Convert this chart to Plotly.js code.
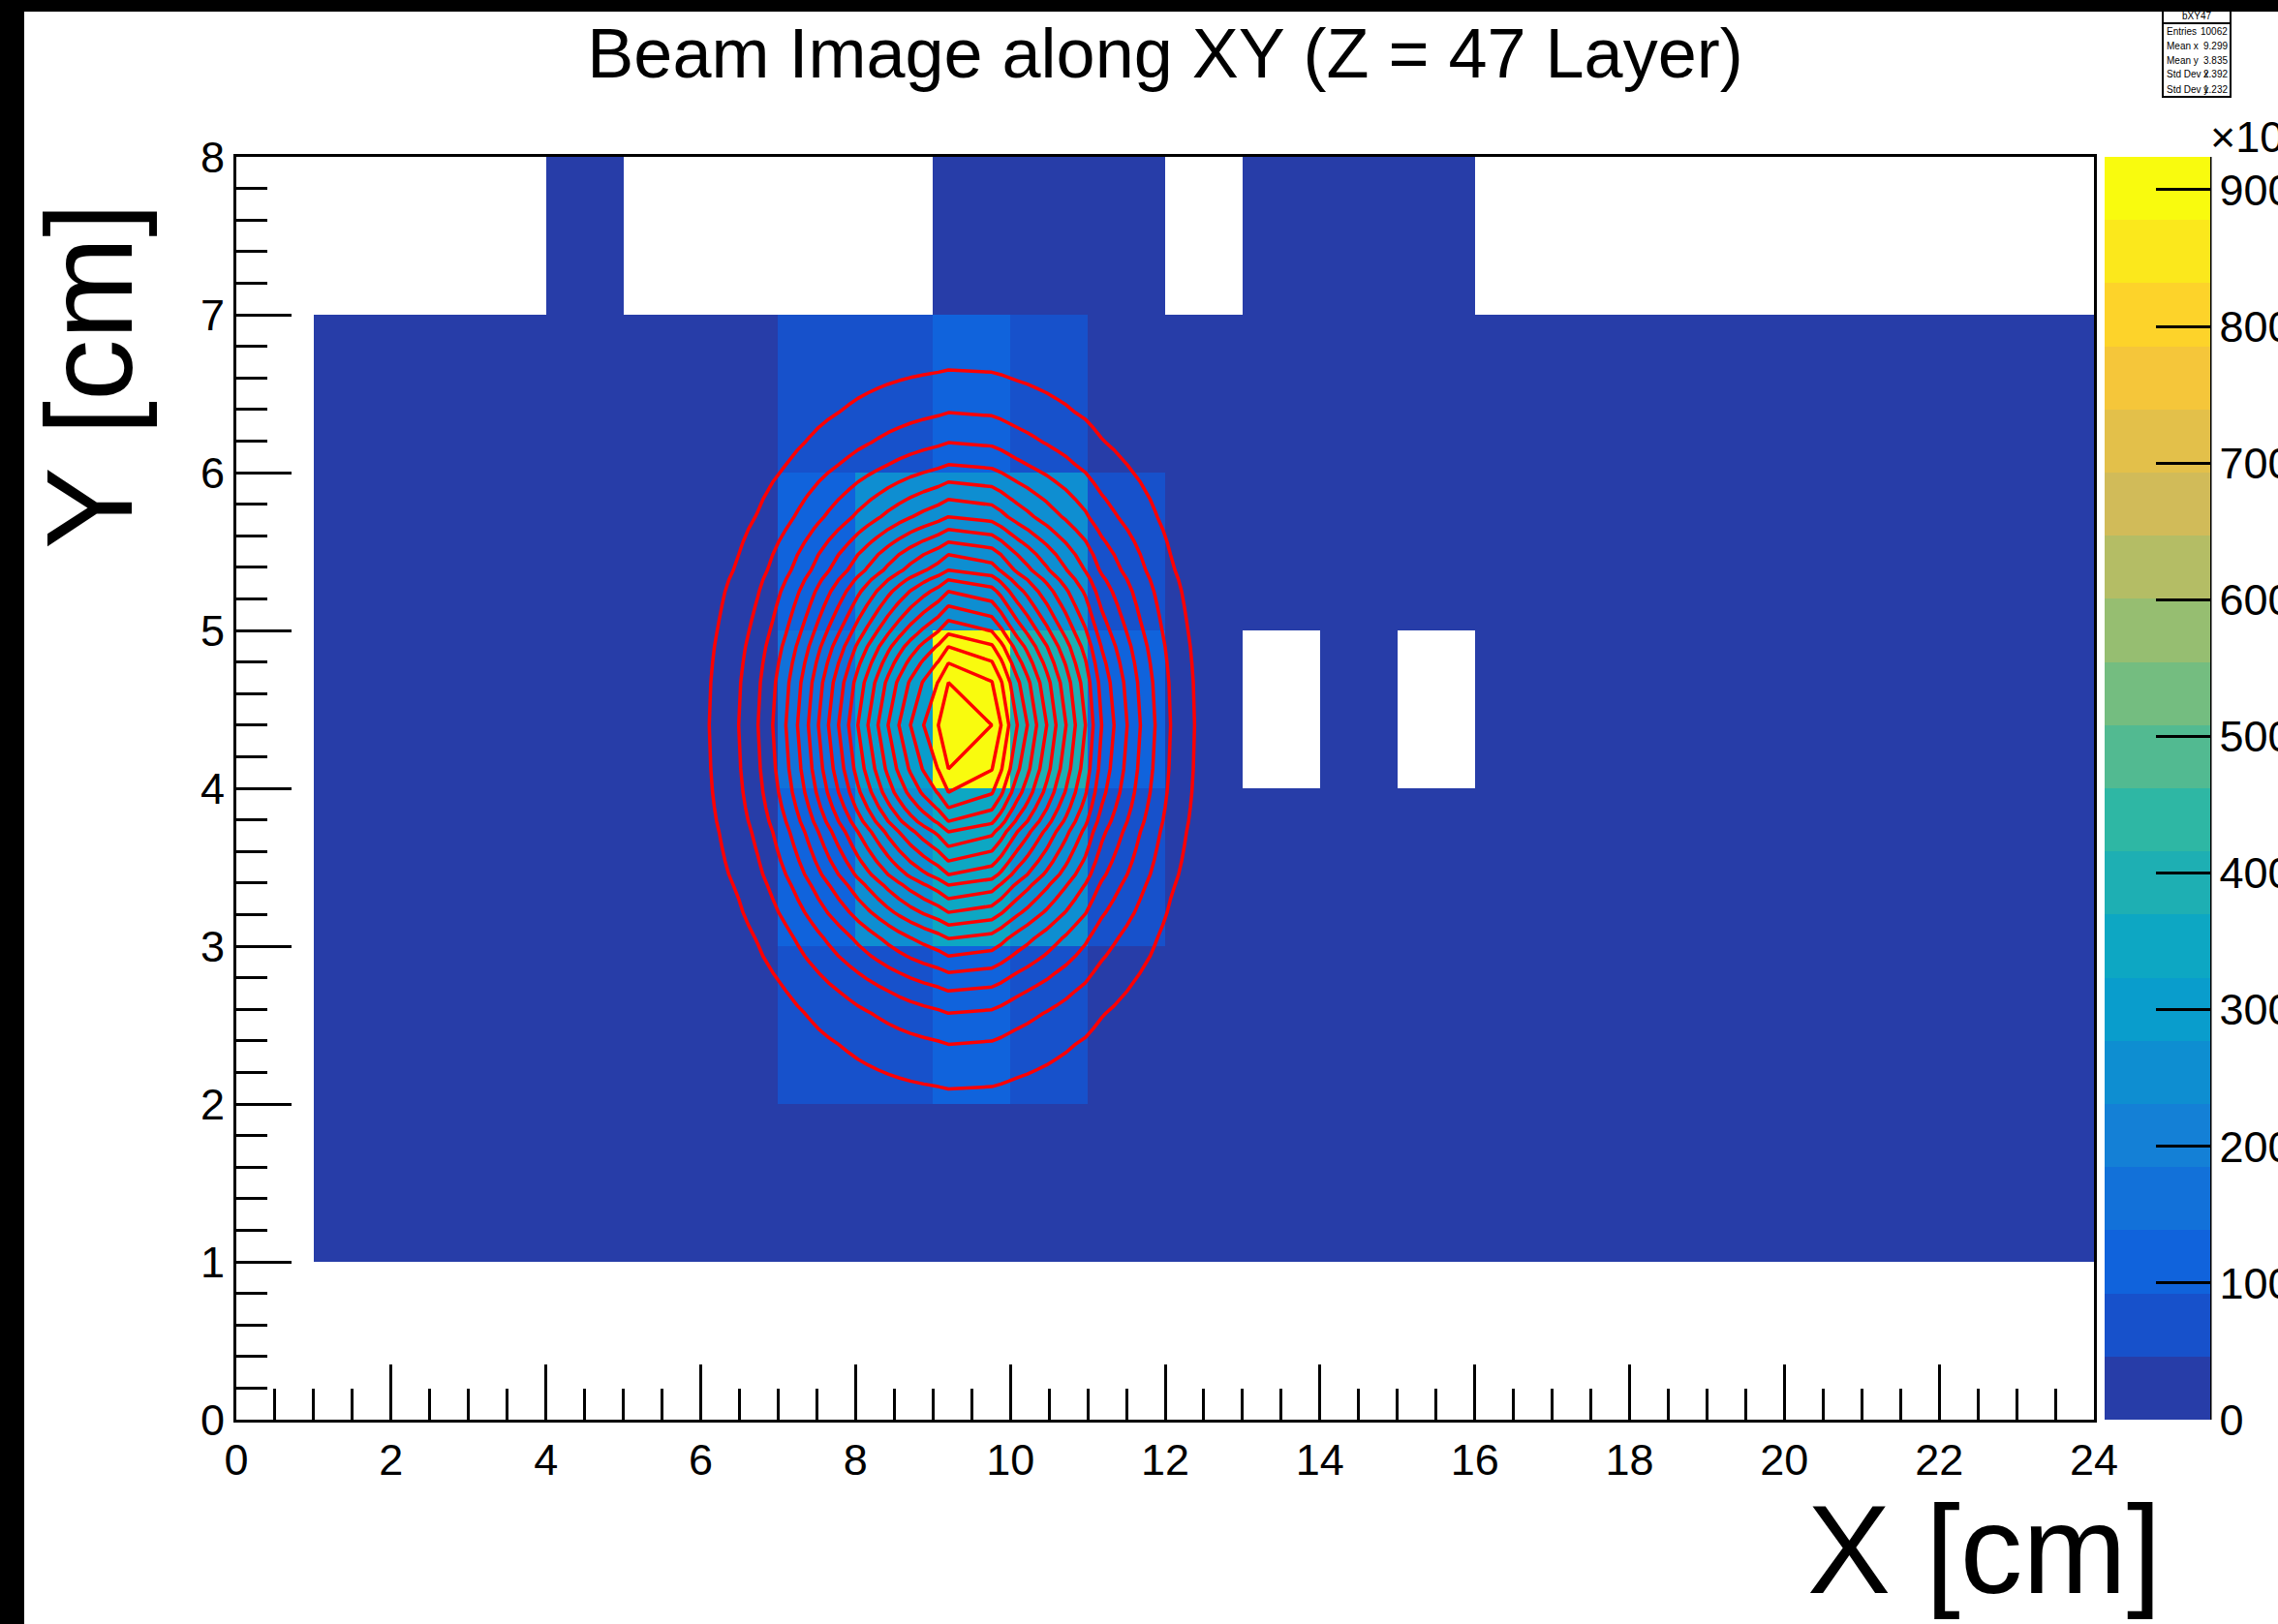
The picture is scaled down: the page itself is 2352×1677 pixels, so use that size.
<!DOCTYPE html>
<html>
<head>
<meta charset="utf-8">
<script src="https://cdn.plot.ly/plotly-3.0.1.min.js"></script>
<style>
  html, body { margin: 0; padding: 0; background: #000; overflow: hidden; width: 2352px; height: 1677px; }
  #plot { position: absolute; left: 25px; top: 12px; width: 2387px; height: 1665px; background: #fff; }
</style>
</head>
<body>
<div id="plot"></div>
<script>
// ---------------- DATA ----------------
const binCentersX = [0.5,1.5,2.5,3.5,4.5,5.5,6.5,7.5,8.5,9.5,10.5,11.5,12.5,13.5,14.5,15.5,16.5,17.5,18.5,19.5,20.5,21.5,22.5,23.5];
const binCentersY = [0.5,1.5,2.5,3.5,4.5,5.5,6.5,7.5];
// bin contents (x10^3), rows = Y bins from 0-1 up to 7-8; 0 = empty bin
const counts = [
  [0,0,0,0,0,0,0,0,0,0,0,0,0,0,0,0,0,0,0,0,0,0,0,0],
  [0,8,8,8,8,8,8,8,8,8,8,8,8,8,8,8,8,8,8,8,8,8,8,8],
  [0,8,8,8,8,8,8,70,70,115,70,12,8,8,8,8,8,8,8,8,8,8,8,8],
  [0,8,8,8,8,8,8,115,250,345,250,70,10,8,8,8,8,8,8,8,8,8,8,8],
  [0,8,8,8,8,8,8,165,300,924,400,115,10,0,8,0,8,8,8,8,8,8,8,8],
  [0,8,8,8,8,8,8,115,250,250,250,70,10,8,8,8,8,8,8,8,8,8,8,8],
  [0,8,8,8,8,8,8,70,70,115,70,12,8,8,8,8,8,8,8,8,8,8,8,8],
  [0,0,0,0,3,0,0,0,0,3,3,3,0,3,3,3,0,0,0,0,0,0,0,0]
];
const zMax = 924;
const colorTicks = [0,100,200,300,400,500,600,700,800,900];
const xTicks = [0,2,4,6,8,10,12,14,16,18,20,22,24];
const yTicks = [0,1,2,3,4,5,6,7,8];

// contour lines (red): positions where contour level k (1..19) crosses
// the horizontal line through the peak (Y = 4.4) and the vertical line (X = 9.2)
const contourLevels = [1,2,3,4,5,6,7,8,9,10,11,12,13,14,15,16,17,18,19];
const contourPeakLevel = 20;
const contourCenterX = 9.2;
const contourCenterY = 4.4;
const contourLeftX  = [6.11,6.49,6.74,6.93,7.10,7.25,7.39,7.52,7.65,7.78,7.91,8.03,8.16,8.29,8.42,8.56,8.71,8.88,9.07];
const contourRightX = [12.38,12.07,11.87,11.68,11.51,11.34,11.18,11.07,10.97,10.84,10.72,10.59,10.47,10.34,10.22,10.09,9.98,9.88,9.76];
const contourBottomY = [2.095,2.378,2.575,2.716,2.833,2.937,3.048,3.134,3.214,3.300,3.386,3.453,3.539,3.631,3.724,3.791,3.877,3.975,4.123];
const contourTopY    = [6.65,6.38,6.19,6.05,5.94,5.83,5.72,5.64,5.56,5.48,5.382,5.321,5.247,5.155,5.063,4.977,4.897,4.793,4.670];

const statsName = "bXY47";
const statsLabels = ["Entries","Mean x","Mean y","Std Dev x","Std Dev y"];
const statsValues = ["10062","9.299","3.835","2.392","1.232"];

// ---------------- STYLE HELPERS ----------------
function bird(f){
  const s=[0,.125,.25,.375,.5,.625,.75,.875,1];
  const R=[0.2082,0.0592,0.0780,0.0232,0.1802,0.5301,0.8186,0.9956,0.9764];
  const G=[0.1664,0.3599,0.5041,0.6419,0.7178,0.7492,0.7328,0.7862,0.9832];
  const B=[0.5293,0.8684,0.8385,0.7914,0.6425,0.4662,0.3499,0.1968,0.0539];
  let k=0; while(k<7 && f>s[k+1]) k++;
  const t=(f-s[k])/(s[k+1]-s[k]);
  const c=(A)=>Math.round(255*(A[k]+(A[k+1]-A[k])*t));
  return 'rgb('+c(R)+','+c(G)+','+c(B)+')';
}
const nBands = 20;
const colorscale = [];
for (let i=0;i<nBands;i++){
  const idx = Math.floor(0.01 + (i+0.99)*255/nBands);
  const col = bird(Math.min(idx,254)/254);
  colorscale.push([i/nBands, col]);
  colorscale.push([(i+1)/nBands, col]);
}

// pixel helpers (plot area in page pixels: x 244..2162, y 162..1466)
const PL=244, PR=2162, PT=162, PB=1466;
const px = X => (X-PL)/(PR-PL);
const py = Y => (PB-Y)/(PB-PT);

// ---------------- TRACES ----------------
const font = 'Liberation Sans, Arial, Helvetica, sans-serif';
const heat = {
  type:'heatmap', x: binCentersX, y: binCentersY,
  z: counts.map(r => r.map(v => v>0 ? v : null)),
  zmin: 0, zmax: zMax, zsmooth: false, colorscale: colorscale,
  hoverinfo: 'skip',
  colorbar: {
    x: px(2173), xanchor:'left', xpad:0, y:0.5, yanchor:'middle', ypad:0,
    len:1, lenmode:'fraction', thickness:109, thicknessmode:'pixels',
    outlinewidth:0, tickmode:'array', tickvals: colorTicks, ticktext: colorTicks.map(String),
    ticks:'inside', ticklen:56, tickwidth:3, tickcolor:'#000',
    tickfont:{family:font, size:45, color:'#000'}
  }
};

// contour grid built from the crossing arrays
const gridX = [3.0].concat(contourLeftX, [contourCenterX], contourRightX.slice().reverse(), [16.0]);
const levX  = [0].concat(contourLevels, [contourPeakLevel], contourLevels.slice().reverse(), [0]);
const gridY = [0.8].concat(contourBottomY, [contourCenterY], contourTopY.slice().reverse(), [7.9]);
const levY  = [0].concat(contourLevels, [contourPeakLevel], contourLevels.slice().reverse(), [0]);
const gridZ = levY.map(ly => levX.map(lx => lx*ly/contourPeakLevel));

const cont = {
  type:'contour', x: gridX, y: gridY, z: gridZ,
  autocontour:false,
  contours:{ coloring:'none', start: contourLevels[0], end: contourLevels[contourLevels.length-1], size:1, showlabels:false },
  line:{ color:'#ff0000', width:3.5, smoothing:0 },
  showscale:false, hoverinfo:'skip'
};

// ---------------- LAYOUT ----------------
const shapes = [
  {type:'line', xref:'paper', yref:'paper', x0:px(2282), x1:px(2282), y0:0, y1:1, line:{color:'#000', width:3}},
  {type:'rect', xref:'paper', yref:'paper', x0:px(2233), x1:px(2303), y0:py(24), y1:py(100), line:{color:'#000', width:2}, fillcolor:'#fff'},
  {type:'rect', xref:'paper', yref:'paper', x0:px(2233), x1:px(2303), y0:py(0), y1:py(24), line:{color:'#000', width:2}, fillcolor:'#fff'}
];
const statsY = [33,47,63,77,93];
const annotations = [
  {text:'Y [cm]', xref:'paper', yref:'paper', x:px(92), y:py(388), textangle:-90, showarrow:false,
   xanchor:'center', yanchor:'middle', font:{family:font, size:127, color:'#000'}},
  {text:'X [cm]', xref:'paper', yref:'paper', x:px(2049), y:py(1600), showarrow:false,
   xanchor:'center', yanchor:'middle', font:{family:font, size:129, color:'#000'}},
  {text:'×10<sup>3</sup>', xref:'paper', yref:'paper', x:px(2280), y:py(138), showarrow:false,
   xanchor:'left', yanchor:'middle', font:{family:font, size:45, color:'#000'}},
  {text:statsName, xref:'paper', yref:'paper', x:px(2268), y:py(16), showarrow:false,
   xanchor:'center', yanchor:'middle', font:{family:font, size:10, color:'#000'}}
];
statsLabels.forEach((l,i)=>{
  annotations.push({text:l, xref:'paper', yref:'paper', x:px(2235), y:py(statsY[i]), showarrow:false,
    xanchor:'left', yanchor:'middle', font:{family:font, size:10, color:'#000'}});
  annotations.push({text:statsValues[i], xref:'paper', yref:'paper', x:px(2302), y:py(statsY[i]), showarrow:false,
    xanchor:'right', yanchor:'middle', font:{family:font, size:10, color:'#000'}});
});

const layout = {
  width: 2387, height: 1665,
  margin: {l:219, r:250, t:150, b:211, pad:0, autoexpand:false},
  paper_bgcolor:'#fff', plot_bgcolor:'#fff',
  showlegend:false,
  title: {text:'Beam Image along XY (Z = 47 Layer)', x: px(1203), xref:'paper', xanchor:'center',
          y: 1-43/1665, yref:'container', yanchor:'middle',
          font:{family:font, size:72, color:'#000'}},
  xaxis: {range:[0,24], tickmode:'array', tickvals:xTicks, ticktext:xTicks.map(String),
          ticks:'inside', ticklen:57, tickwidth:3, tickcolor:'#000',
          minor:{dtick:0.5, tick0:0, ticks:'inside', ticklen:32, tickwidth:3, tickcolor:'#000', showgrid:false},
          showline:true, linecolor:'#000', linewidth:3, mirror:true, showgrid:false, zeroline:false,
          ticklabelstandoff: 0,
          tickfont:{family:font, size:45, color:'#000'}},
  yaxis: {range:[0,8], tickmode:'array', tickvals:yTicks, ticktext:yTicks.map(String),
          ticks:'inside', ticklen:57, tickwidth:3, tickcolor:'#000',
          minor:{dtick:0.2, tick0:0, ticks:'inside', ticklen:32, tickwidth:3, tickcolor:'#000', showgrid:false},
          showline:true, linecolor:'#000', linewidth:3, mirror:true, showgrid:false, zeroline:false,
          ticklabelstandoff: 0,
          tickfont:{family:font, size:45, color:'#000'}},
  shapes: shapes,
  annotations: annotations
};

Plotly.newPlot('plot', [heat, cont], layout, {staticPlot:true, displayModeBar:false});
</script>
</body>
</html>
